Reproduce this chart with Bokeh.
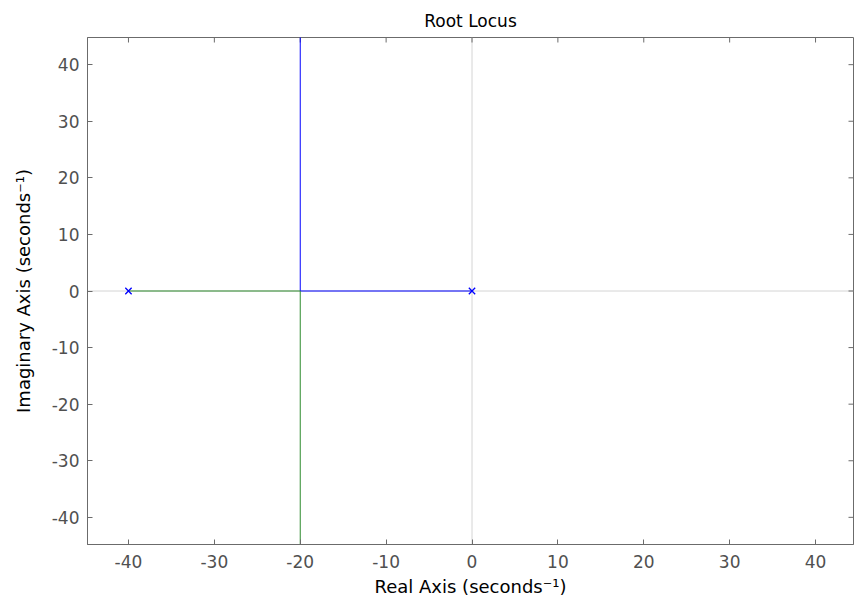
import math
from bokeh.plotting import figure
from bokeh.models import Range1d, Span, FixedTicker
from bokeh.embed import file_html
from bokeh.resources import INLINE

# Data
poles_re = [-40, 0]
poles_im = [0, 0]
branch1_re = [0, -20, -20]
branch1_im = [0, 0, 45]
branch2_re = [-40, -20, -20]
branch2_im = [0, 0, -45]
ticks = [-40, -30, -20, -10, 0, 10, 20, 30, 40]
tick_labels = ["-40", "-30", "-20", "-10", "0", "10", "20", "30", "40"]

FONT = "DejaVu Sans"
AXC = "#6b6b6b"
LBLC = "#505050"

XMIN, XMAX = -44.77, 44.42
YMIN, YMAX = -44.8, 44.8

p = figure(width=854, height=604, output_backend="svg", toolbar_location=None,
           x_range=Range1d(XMIN, XMAX), y_range=Range1d(YMIN, YMAX),
           min_border_left=87, min_border_right=1, min_border_top=37, min_border_bottom=60,
           title="Root Locus")
p.title.align = "center"
p.title.text_font = FONT
p.title.text_font_size = "17px"
p.title.text_font_style = "normal"
p.title.text_color = "#000000"
p.title.standoff = 13

p.xgrid.visible = False
p.ygrid.visible = False
p.outline_line_color = AXC
p.background_fill_color = "white"
p.border_fill_color = "white"

for ax, lab in ((p.xaxis[0], "Real Axis (seconds⁻¹)"), (p.yaxis[0], "Imaginary Axis (seconds⁻¹)")):
    ax.ticker = FixedTicker(ticks=ticks)
    ax.major_label_overrides = {t: s for t, s in zip(ticks, tick_labels)}
    ax.axis_label = lab
    ax.axis_label_text_font = FONT
    ax.axis_label_text_font_style = "normal"
    ax.axis_label_text_font_size = "18px"
    ax.axis_label_text_color = "#000000"
    ax.major_label_text_font = FONT
    ax.major_label_text_font_size = "17px"
    ax.major_label_text_color = LBLC
    ax.axis_line_color = AXC
    ax.major_tick_line_color = AXC
    ax.major_tick_in = 5
    ax.major_tick_out = 0
    ax.minor_tick_line_color = None

p.xaxis[0].major_label_standoff = 10
p.xaxis[0].axis_label_standoff = 5
p.yaxis[0].major_label_standoff = 8
p.yaxis[0].axis_label_standoff = 15

p.add_layout(Span(location=0, dimension="width", line_color="#d4d4d4", line_width=1, level="underlay"))
p.add_layout(Span(location=0, dimension="height", line_color="#d4d4d4", line_width=1, level="underlay"))

# box ticks on top and right edges (half of each dash is clipped by the frame)
p.scatter(ticks, [YMAX] * len(ticks), marker="dash", size=10, angle=math.pi / 2,
          line_color=AXC, line_width=1)
p.scatter([XMAX] * len(ticks), ticks, marker="dash", size=10, angle=0,
          line_color=AXC, line_width=1)

p.line(branch1_re, branch1_im, line_color="#0000ff", line_width=1)
p.line(branch2_re, branch2_im, line_color="#2e8b2e", line_width=1)
p.scatter(poles_re, poles_im, marker="x", size=9, line_color="#0000ff", line_width=1.3)

open("out.html", "w").write(file_html(p, INLINE))
